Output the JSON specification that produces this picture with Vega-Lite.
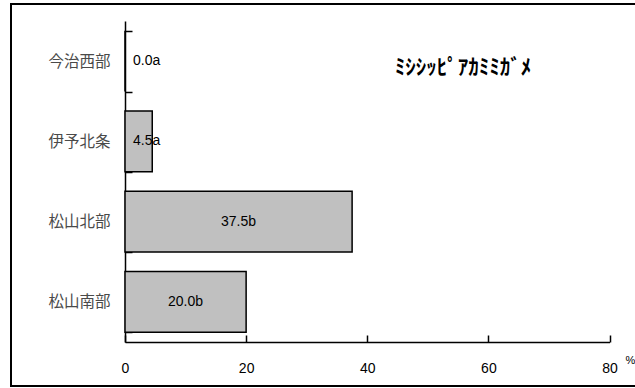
{
  "$schema": "https://vega.github.io/schema/vega-lite/v6.json",
  "width": 625,
  "height": 382,
  "autosize": "none",
  "padding": {"left": 11, "top": 4, "right": 0, "bottom": 2},
  "background": "white",
  "config": {
    "view": {"stroke": "black", "strokeWidth": 2},
    "axis": {"grid": false, "domainColor": "black", "domainWidth": 1.5, "tickColor": "black", "tickWidth": 1.5}
  },
  "data": {
    "values": [
      {"region": "今治西部", "value": 0.0, "label": "0.0a"},
      {"region": "伊予北条", "value": 4.5, "label": "4.5a"},
      {"region": "松山北部", "value": 37.5, "label": "37.5b"},
      {"region": "松山南部", "value": 20.0, "label": "20.0b"}
    ]
  },
  "layer": [
    {
      "mark": {"type": "bar", "fill": "#c0c0c0", "stroke": "black", "strokeWidth": 1.5},
      "encoding": {
        "y": {
          "field": "region", "type": "nominal", "sort": null, "title": null,
          "scale": {"range": [17, 338], "paddingInner": 0.24, "paddingOuter": 0.12},
          "axis": {
            "tickBand": "extent", "tickSize": -7, "offset": -114,
            "labelFont": "Noto Sans CJK JP", "labelFontSize": 15.5, "labelColor": "#4a4a4a",
            "labelPadding": 22
          }
        },
        "x": {
          "field": "value", "type": "quantitative", "title": "%",
          "scale": {"domain": [0, 80], "range": [114, 598.5], "nice": false},
          "axis": {
            "values": [0, 20, 40, 60, 80], "format": "d", "tickSize": -7, "offset": -44,
            "labelFont": "Liberation Sans", "labelFontSize": 14, "labelColor": "black",
            "labelPadding": 26, "labelBaseline": "top", "labelFlush": false,
            "titleFont": "Liberation Sans", "titleFontSize": 11, "titleFontWeight": "normal",
            "titleColor": "black", "titleX": 619, "titleY": 18,
            "titleAlign": "center", "titleBaseline": "middle"
          }
        }
      }
    },
    {
      "transform": [
        {"filter": "datum.value >= 10"},
        {"calculate": "datum.value / 2", "as": "mid"}
      ],
      "mark": {"type": "text", "font": "Liberation Sans", "fontSize": 14, "color": "black", "align": "center", "baseline": "middle"},
      "encoding": {
        "y": {"field": "region", "type": "nominal", "sort": null, "title": null},
        "x": {"field": "mid", "type": "quantitative", "title": "%"},
        "text": {"field": "label"}
      }
    },
    {
      "transform": [{"filter": "datum.value < 10"}],
      "mark": {"type": "text", "font": "Liberation Sans", "fontSize": 14, "color": "black", "align": "left", "baseline": "middle", "dx": 8},
      "encoding": {
        "y": {"field": "region", "type": "nominal", "sort": null, "title": null},
        "x": {"datum": 0, "type": "quantitative", "title": "%"},
        "text": {"field": "label"}
      }
    },
    {
      "data": {"values": [{"species": "ﾐｼｼｯﾋﾟｱｶﾐﾐｶﾞﾒ", "region": "今治西部", "at": 55.8}]},
      "mark": {"type": "text", "font": "Noto Sans CJK JP", "fontSize": 21, "fontWeight": "bold", "color": "black", "align": "center", "baseline": "middle", "dy": 7},
      "encoding": {
        "y": {"field": "region", "type": "nominal", "sort": null, "title": null},
        "x": {"field": "at", "type": "quantitative", "title": "%"},
        "text": {"field": "species"}
      }
    }
  ]
}
